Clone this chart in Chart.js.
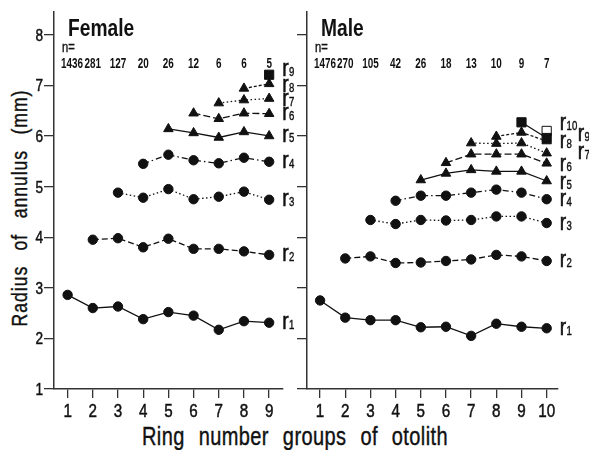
<!DOCTYPE html>
<html>
<head>
<meta charset="utf-8">
<script src="https://cdn.jsdelivr.net/npm/chart.js@4/dist/chart.umd.min.js"></script>
<style>
  html, body { margin: 0; padding: 0; background: #fff; }
  #wrap { position: relative; width: 589px; height: 450px; overflow: hidden;
          font-family: 'Liberation Sans', Arial, sans-serif; color: #111; }
  .panel { position: absolute; top: 0; height: 450px; }
  #fBox { left: 0; width: 310px; z-index: 2; }
  #mBox { left: 295px; width: 294px; z-index: 1; }
  #xTitle { position: absolute; left: 0; width: 590px; top: 422px; text-align: center;
            font-size: 25px; line-height: 28px; white-space: nowrap; -webkit-text-stroke: 0.4px #111;
            word-spacing: 10px; letter-spacing: 0.5px; transform: scaleX(0.8); }
  #yTitle { position: absolute; left: 20px; top: 208px; white-space: nowrap; -webkit-text-stroke: 0.4px #111;
            transform: translate(-50%, -50%) rotate(-90deg) scaleX(0.8);
            font-size: 22px; line-height: 22px; letter-spacing: 1.2px; word-spacing: 12px; }
</style>
</head>
<body>
<div id="wrap">
  <div class="panel" id="fBox"><canvas id="female"></canvas></div>
  <div class="panel" id="mBox"><canvas id="male"></canvas></div>
  <div id="yTitle">Radius of annulus (mm)</div>
  <div id="xTitle">Ring number groups of otolith</div>
</div>
<script>
// Ring number groups and sample sizes
const femaleGroups = [1, 2, 3, 4, 5, 6, 7, 8, 9];
const femaleN = ['1436', '281', '127', '20', '26', '12', '6', '6', '5'];
const maleGroups = [1, 2, 3, 4, 5, 6, 7, 8, 9, 10];
const maleN = ['1476', '270', '105', '42', '26', '18', '13', '10', '9', '7'];
const yTicks = [1, 2, 3, 4, 5, 6, 7, 8];

// Mean radius (mm) of annulus r1..r9, female, per ring number group
const femaleR1 = [2.86, 2.60, 2.63, 2.38, 2.52, 2.45, 2.17, 2.34, 2.31];
const femaleR2 = [null, 3.95, 3.98, 3.80, 3.97, 3.77, 3.77, 3.72, 3.65];
const femaleR3 = [null, null, 4.88, 4.78, 4.95, 4.75, 4.80, 4.90, 4.74];
const femaleR4 = [null, null, null, 5.45, 5.63, 5.52, 5.46, 5.57, 5.49];
const femaleR5 = [null, null, null, null, 6.14, 6.06, 5.97, 6.08, 6.00];
const femaleR6 = [null, null, null, null, null, 6.45, 6.34, 6.45, 6.44];
const femaleR7 = [null, null, null, null, null, null, 6.65, 6.71, 6.74];
const femaleR8 = [null, null, null, null, null, null, null, 6.94, 7.03];
const femaleR9 = [null, null, null, null, null, null, null, null, 7.21];

// Mean radius (mm) of annulus r1..r10, male, per ring number group
const maleR1 = [2.75, 2.41, 2.36, 2.36, 2.22, 2.23, 2.05, 2.29, 2.23, 2.20];
const maleR2 = [null, 3.58, 3.62, 3.49, 3.50, 3.53, 3.56, 3.65, 3.62, 3.53];
const maleR3 = [null, null, 4.34, 4.26, 4.34, 4.33, 4.34, 4.41, 4.41, 4.28];
const maleR4 = [null, null, null, 4.72, 4.82, 4.82, 4.88, 4.94, 4.88, 4.75];
const maleR5 = [null, null, null, null, 5.13, 5.26, 5.33, 5.30, 5.30, 5.11];
const maleR6 = [null, null, null, null, null, 5.47, 5.64, 5.64, 5.64, 5.46];
const maleR7 = [null, null, null, null, null, null, 5.86, 5.85, 5.86, 5.66];
const maleR8 = [null, null, null, null, null, null, null, 5.99, 6.07, 5.90];
const maleR9 = [null, null, null, null, null, null, null, null, 6.27, 5.96];
const maleR10 = [null, null, null, null, null, null, null, null, null, 6.10];

const FONT = "'Liberation Sans', Arial, sans-serif";
const INK = '#111';
const NARROW = 0.8;   // horizontal squeeze for a narrow typeface look

// Line and marker style for each annulus
const ringStyle = {
  1:  { dash: [],             point: 'circle',   r: 4.7 },
  2:  { dash: [6, 3],         point: 'circle',   r: 4.7 },
  3:  { dash: [1.5, 2.5],     point: 'circle',   r: 4.7 },
  4:  { dash: [6, 3, 1.5, 3], point: 'circle',   r: 4.7 },
  5:  { dash: [],             point: 'triangle', r: 5.5 },
  6:  { dash: [7, 3],         point: 'triangle', r: 5.5 },
  7:  { dash: [1.5, 2.5],     point: 'triangle', r: 5.5 },
  8:  { dash: [3, 2],         point: 'triangle', r: 5.5 },
  9:  { dash: [],             point: 'rect',     r: 6.5 },
  10: { dash: [],             point: 'rect',     r: 6.5, open: true }
};

function makeSet(groups, values, ring, labelShift) {
  const pts = [];
  groups.forEach((g, i) => { if (values[i] != null) pts.push({ x: g, y: values[i] }); });
  const s = ringStyle[ring];
  return {
    label: 'r' + ring, ring: ring, labelShift: labelShift,
    data: pts,
    borderColor: INK, borderWidth: 1.3, borderDash: s.dash,
    pointStyle: s.point, pointRadius: s.r, pointHoverRadius: s.r,
    pointBackgroundColor: s.open ? '#fff' : INK, pointBorderColor: INK, pointBorderWidth: 1,
    tension: 0, fill: false, clip: false
  };
}

// Draws squeezed, slightly heavy text; returns its drawn width
function text(ctx, s, x, y, font, align, sx, stroke) {
  ctx.save();
  ctx.font = font;
  ctx.textAlign = align;
  ctx.textBaseline = 'alphabetic';
  ctx.translate(x, y);
  ctx.scale(sx, 1);
  ctx.fillText(s, 0, 0);
  if (stroke) { ctx.lineWidth = stroke; ctx.strokeStyle = INK; ctx.strokeText(s, 0, 0); }
  const w = ctx.measureText(s).width * sx;
  ctx.restore();
  return w;
}

// Tick labels, panel title, sample sizes and the r-labels at the end of each line
const panelText = {
  id: 'panelText',
  afterDatasetsDraw(chart, args, opts) {
    const ctx = chart.ctx, area = chart.chartArea, xs = chart.scales.x, ys = chart.scales.y;
    ctx.save();
    ctx.fillStyle = INK;

    if (opts.yLabels) {
      yTicks.forEach(v => text(ctx, String(v), area.left - 11, ys.getPixelForValue(v) + 6, '17px ' + FONT, 'right', NARROW, 0.5));
    }
    opts.groups.forEach(g => text(ctx, String(g), xs.getPixelForValue(g), 417, '19px ' + FONT, 'center', NARROW, 0.5));

    text(ctx, opts.title, area.left + 14, 36, 'bold 24px ' + FONT, 'left', NARROW, 0);
    text(ctx, 'n=', area.left + 8, 52, '14px ' + FONT, 'left', NARROW, 0.4);
    opts.groups.forEach((g, i) => {
      if (i === 0) text(ctx, opts.n[i], area.left + 7, 68, 'bold 15px ' + FONT, 'left', 0.66, 0);
      else text(ctx, opts.n[i], xs.getPixelForValue(g), 68, 'bold 15px ' + FONT, 'center', 0.66, 0);
    });

    chart.data.datasets.forEach((ds, i) => {
      const meta = chart.getDatasetMeta(i);
      const last = meta.data[meta.data.length - 1];
      const x = last.x + ds.labelShift[0];
      const base = last.y + ds.labelShift[1] + 6.5;
      const w = text(ctx, 'r', x, base, '24px ' + FONT, 'left', NARROW, 0.6);
      text(ctx, String(ds.ring), x + w + 0.5, base, '12px ' + FONT, 'left', NARROW, 0.4);
    });
    ctx.restore();
  }
};

function makeChart(id, groups, nLabels, title, sets, xMin, xMax, yWidth, padRight, showYLabels) {
  return new Chart(document.getElementById(id), {
    type: 'line',
    data: { datasets: sets },
    plugins: [panelText],
    options: {
      responsive: true, maintainAspectRatio: false, animation: false,
      layout: { padding: { top: 12, right: padRight, left: 0, bottom: 0 } },
      plugins: {
        legend: { display: false }, tooltip: { enabled: false },
        panelText: { title: title, n: nLabels, groups: groups, yLabels: showYLabels }
      },
      scales: {
        x: {
          type: 'linear', min: xMin, max: xMax,
          afterBuildTicks: s => { s.ticks = groups.map(v => ({ value: v })); },
          afterFit: s => { s.height = 61; },
          border: { display: true, color: '#333', width: 1.5 },
          grid: { drawOnChartArea: false, drawTicks: true, tickLength: 9, color: '#333', lineWidth: 1.3 },
          ticks: { display: false }
        },
        y: {
          type: 'linear', min: 1, max: 8.45,
          afterBuildTicks: s => { s.ticks = yTicks.map(v => ({ value: v })); },
          afterFit: s => { s.width = yWidth; },
          border: { display: true, color: '#333', width: 1.5 },
          grid: { drawOnChartArea: false, drawTicks: true, tickLength: 10, color: '#333', lineWidth: 1.3 },
          ticks: { display: false }
        }
      }
    }
  });
}

const femaleSets = [
  makeSet(femaleGroups, femaleR1, 1, [13, 0]),
  makeSet(femaleGroups, femaleR2, 2, [13, 0]),
  makeSet(femaleGroups, femaleR3, 3, [13, 0]),
  makeSet(femaleGroups, femaleR4, 4, [13, 0]),
  makeSet(femaleGroups, femaleR5, 5, [13, 0]),
  makeSet(femaleGroups, femaleR6, 6, [13, 0]),
  makeSet(femaleGroups, femaleR7, 7, [13, 1]),
  makeSet(femaleGroups, femaleR8, 8, [13, 2]),
  makeSet(femaleGroups, femaleR9, 9, [13, -5])
];

const maleSets = [
  makeSet(maleGroups, maleR1, 1, [13, 0]),
  makeSet(maleGroups, maleR2, 2, [13, 0]),
  makeSet(maleGroups, maleR3, 3, [13, 0]),
  makeSet(maleGroups, maleR4, 4, [13, 0]),
  makeSet(maleGroups, maleR5, 5, [13, 1]),
  makeSet(maleGroups, maleR6, 6, [13, 1]),
  makeSet(maleGroups, maleR7, 7, [31, -1]),
  makeSet(maleGroups, maleR8, 8, [13, 0]),
  makeSet(maleGroups, maleR9, 9, [31, -4]),
  makeSet(maleGroups, maleR10, 10, [13, -7])
];

makeChart('female', femaleGroups, femaleN, 'Female', femaleSets, 0.46, 9.55, 54, 27, true);
makeChart('male', maleGroups, maleN, 'Male', maleSets, 0.48, 10.45, 12, 31, false);
</script>
</body>
</html>
